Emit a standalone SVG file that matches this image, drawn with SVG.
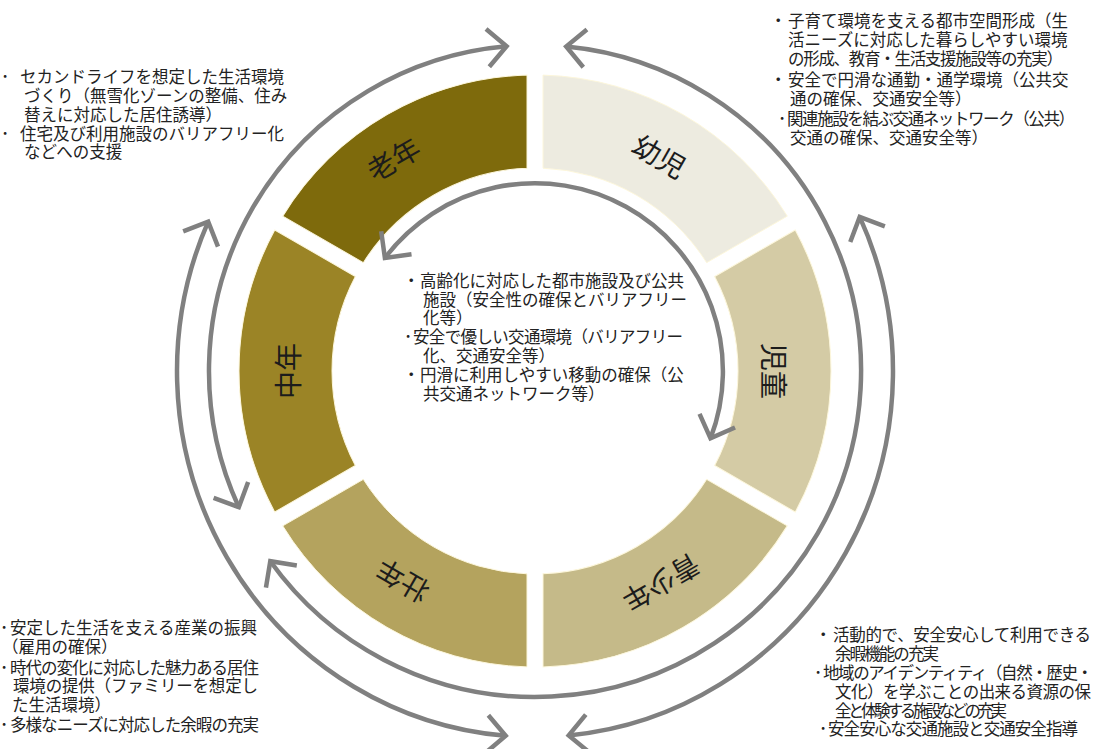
<svg xmlns="http://www.w3.org/2000/svg" width="1095" height="749" viewBox="0 0 1095 749">
<style>
.seg{stroke:#fdf7dc;stroke-width:1}
.lbl{font-family:"Noto Sans CJK JP","Noto Sans CJK SC",sans-serif;font-size:28px;fill:#1c1c1c;text-anchor:middle;dominant-baseline:central}
.t{font-family:"Liberation Sans","Noto Sans CJK JP","Noto Sans CJK SC",sans-serif;font-size:16.5px;fill:#222}
.arc{fill:none;stroke:#808080;stroke-width:4.5;marker-start:url(#ah);marker-end:url(#ah)}
</style>
<defs>
<path id="seg" d="M8,-295.89 A296,296 0 0 1 252.26,-154.86 L171.67,-108.35 A203,203 0 0 0 8,-202.84 Z"/>
<marker id="ah" markerUnits="userSpaceOnUse" viewBox="-30 -30 40 60" markerWidth="40" markerHeight="60" refX="0" refY="0" orient="auto-start-reverse" overflow="visible">
<path d="M-19,-19 L0,0 L-19,19" fill="none" stroke="#808080" stroke-width="4.5"/>
</marker>
</defs>
<rect width="1095" height="749" fill="#ffffff"/>

<g id="node-yoji"><use href="#seg" class="seg" fill="#EDEBE0" transform="translate(535 371)"/><text class="lbl" transform="translate(660 155) rotate(30)">幼児</text></g>
<g id="node-jido"><use href="#seg" class="seg" fill="#D4CBA5" transform="translate(535 371) rotate(60)"/><text class="lbl" transform="translate(775 371) rotate(90)">児童</text></g>
<g id="node-seishonen"><use href="#seg" class="seg" fill="#C5BA89" transform="translate(535 371) rotate(120)"/><text class="lbl" transform="translate(662 584) rotate(150)">青少年</text></g>
<g id="node-sonen"><use href="#seg" class="seg" fill="#B4A35E" transform="translate(535 371) rotate(180)"/><text class="lbl" transform="translate(402 582) rotate(210)">壮年</text></g>
<g id="node-chunen"><use href="#seg" class="seg" fill="#9B8426" transform="translate(535 371) rotate(240)"/><text class="lbl" transform="translate(287 371) rotate(270)">中年</text></g>
<g id="node-ronen"><use href="#seg" class="seg" fill="#7E6A0C" transform="translate(535 371) rotate(300)"/><text class="lbl" transform="translate(393 158) rotate(330)">老年</text></g>

<g id="connectors">
<path class="arc" d="M238.8,507.2 A326,326 0 0 1 506.6,46.2"/>
<path class="arc" d="M566.2,46.5 A326,326 0 1 1 270.3,561.2"/>
<path class="arc" d="M505.7,735.8 A358,366 0 0 1 208.2,221.6"/>
<path class="arc" d="M859.7,216.9 A358,366 0 0 1 568.7,735.4"/>
<path class="arc" d="M384.9,257.9 A188,188 0 0 1 710.5,438.4"/>
</g>

<g id="note-ronen">
<text class="t"><tspan x="1" y="83">･</tspan><tspan x="20" y="83">セカンドライフを想定した生活環境</tspan><tspan x="24" y="102">づくり（無雪化ゾーンの整備、住み</tspan><tspan x="24" y="120.5">替えに対応した居住誘導）</tspan><tspan x="1" y="139.5">･</tspan><tspan x="20" y="139.5">住宅及び利用施設のバリアフリー化</tspan><tspan x="24" y="158">などへの支援</tspan></text>
</g>

<g id="note-yoji">
<text class="t"><tspan x="770" y="27">・</tspan><tspan x="788" y="27">子育て環境を支える都市空間形成（生</tspan><tspan x="788" y="46">活ニーズに対応した暮らしやすい環境</tspan><tspan x="788" y="64.5" textLength="275">の形成、教育・生活支援施設等の充実）</tspan><tspan x="770" y="86">・</tspan><tspan x="788" y="86">安全で円滑な通勤・通学環境（公共交</tspan><tspan x="790" y="105">通の確保、交通安全等）</tspan><tspan x="778" y="125">･</tspan><tspan x="787" y="125" textLength="288">関連施設を結ぶ交通ネットワーク（公共）</tspan><tspan x="790" y="144">交通の確保、交通安全等）</tspan></text>
</g>

<g id="note-center">
<text class="t"><tspan x="403" y="287">・</tspan><tspan x="420" y="287">高齢化に対応した都市施設及び公共</tspan><tspan x="423" y="305.5">施設（安全性の確保とバリアフリー</tspan><tspan x="423" y="324">化等）</tspan><tspan x="404" y="343">･</tspan><tspan x="413" y="343" textLength="270">安全で優しい交通環境（バリアフリー</tspan><tspan x="423" y="361.5">化、交通安全等）</tspan><tspan x="403" y="381">・</tspan><tspan x="420" y="381">円滑に利用しやすい移動の確保（公</tspan><tspan x="423" y="399.5">共交通ネットワーク等）</tspan></text>
</g>

<g id="note-sonen">
<text class="t"><tspan x="0" y="634">･</tspan><tspan x="10" y="634">安定した生活を支える産業の振興</tspan><tspan x="2" y="653">（雇用の確保）</tspan><tspan x="0" y="673.5">･</tspan><tspan x="10" y="673.5" textLength="249">時代の変化に対応した魅力ある居住</tspan><tspan x="13" y="692" textLength="245">環境の提供（ファミリーを想定し</tspan><tspan x="12" y="710.5">た生活環境）</tspan><tspan x="0" y="731">･</tspan><tspan x="10" y="731" textLength="249">多様なニーズに対応した余暇の充実</tspan></text>
</g>

<g id="note-seishonen">
<text class="t"><tspan x="815" y="641">・</tspan><tspan x="833" y="641" textLength="258">活動的で、安全安心して利用できる</tspan><tspan x="835" y="660" textLength="104">余暇機能の充実</tspan><tspan x="814" y="679">･</tspan><tspan x="823" y="679" textLength="270">地域のアイデンティティ（自然・歴史・</tspan><tspan x="835" y="698" textLength="256">文化）を学ぶことの出来る資源の保</tspan><tspan x="835" y="716.5" textLength="172">全と体験する施設などの充実</tspan><tspan x="819" y="735">･</tspan><tspan x="828" y="735" textLength="250">安全安心な交通施設と交通安全指導</tspan></text>
</g>
</svg>
